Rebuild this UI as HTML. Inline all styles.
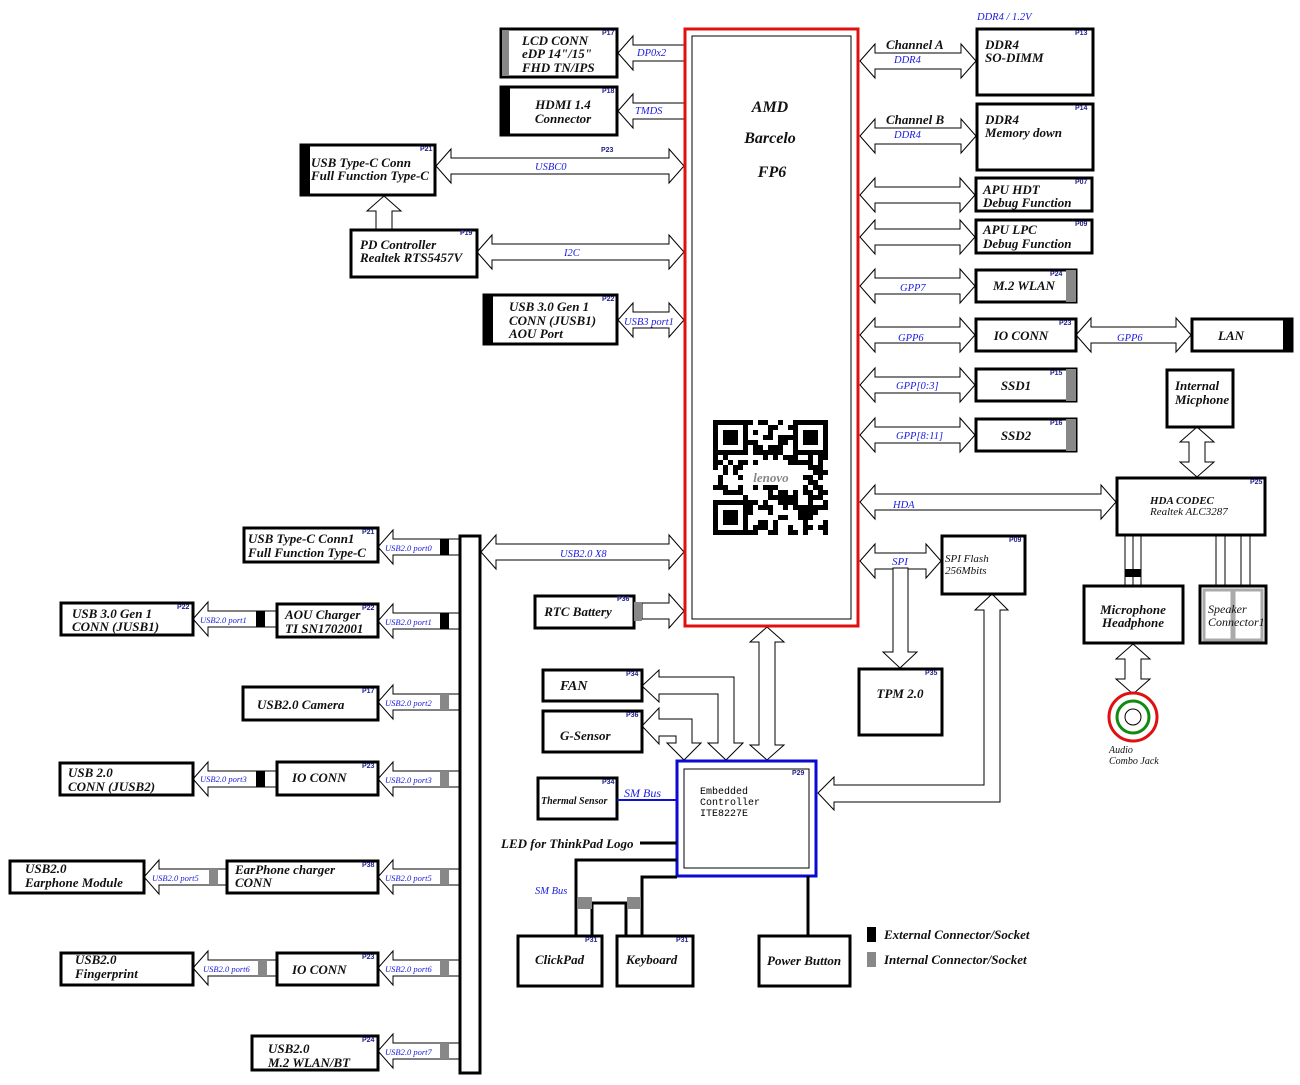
<!DOCTYPE html>
<html><head><meta charset="utf-8"><style>
html,body{margin:0;padding:0;background:#fff;width:1300px;height:1085px;overflow:hidden}
svg{display:block}
.t{font-family:"Liberation Serif",serif;font-style:italic;font-weight:bold;font-size:13px;fill:#111}
.b{font-family:"Liberation Serif",serif;font-style:italic;font-size:10.5px;fill:#1a1adf}
.p{font-family:"Liberation Sans",sans-serif;font-size:7px;font-weight:bold;fill:#22228a}
.bx{fill:#fff;stroke:#000;stroke-width:3}
</style></head><body>
<svg id="s" width="1300" height="1085" viewBox="0 0 1300 1085" xmlns="http://www.w3.org/2000/svg">
<g id="arrows" fill="#fff" stroke="#000" stroke-width="1"></g>

<!-- CPU -->
<rect x="685" y="29" width="173" height="597" fill="#fff" stroke="#e01010" stroke-width="3"/>
<rect x="692" y="36" width="159" height="583" fill="none" stroke="#000" stroke-width="1"/>
<text class="t" x="770" y="112" text-anchor="middle" style="font-size:16px">AMD</text>
<text class="t" x="770" y="143" text-anchor="middle" style="font-size:16px">Barcelo</text>
<text class="t" x="772" y="177" text-anchor="middle" style="font-size:16px">FP6</text>
<g id="qr"></g>
<text class="t" x="771" y="482" text-anchor="middle" style="font-size:13px;fill:#888">lenovo</text>

<!-- top left -->
<rect class="bx" x="501" y="29" width="116" height="48"/><rect x="502" y="30" width="7" height="46" fill="#888"/>
<text class="t" x="522" y="45">LCD CONN</text><text class="t" x="522" y="58">eDP 14"/15"</text><text class="t" x="522" y="72">FHD TN/IPS</text>
<text class="p" x="602" y="35">P17</text>
<text class="b" x="637" y="56">DP0x2</text>
<rect class="bx" x="501" y="87" width="116" height="48"/><rect x="502" y="88" width="8" height="46" fill="#000"/>
<text class="t" x="563" y="109" text-anchor="middle">HDMI 1.4</text><text class="t" x="563" y="123" text-anchor="middle">Connector</text>
<text class="p" x="602" y="93">P18</text>
<text class="b" x="635" y="114">TMDS</text>
<rect class="bx" x="301" y="145" width="134" height="50"/><rect x="302" y="146" width="8" height="48" fill="#000"/>
<text class="t" x="311" y="167">USB Type-C  Conn</text><text class="t" x="311" y="180">Full Function Type-C</text>
<text class="p" x="420" y="151">P21</text>
<text class="b" x="535" y="170">USBC0</text><text class="p" x="601" y="152">P23</text>
<rect class="bx" x="351" y="230" width="126" height="47"/>
<text class="t" x="360" y="249">PD Controller</text><text class="t" x="360" y="262">Realtek RTS5457V</text>
<text class="p" x="460" y="235">P19</text>
<text class="b" x="564" y="256">I2C</text>
<rect class="bx" x="484" y="295" width="133" height="49"/><rect x="485" y="296" width="8" height="47" fill="#000"/>
<text class="t" x="509" y="311">USB 3.0 Gen 1</text><text class="t" x="509" y="325">CONN (JUSB1)</text><text class="t" x="509" y="338">AOU Port</text>
<text class="p" x="602" y="301">P22</text>
<text class="b" x="624" y="325">USB3 port1</text>

<!-- right -->
<text class="b" x="977" y="20">DDR4 / 1.2V</text>
<rect class="bx" x="977" y="29" width="116" height="66"/><text class="t" x="985" y="49">DDR4</text><text class="t" x="985" y="62">SO-DIMM</text><text class="p" x="1075" y="35">P13</text>
<text class="t" x="886" y="49">Channel A</text><text class="b" x="894" y="63">DDR4</text>
<rect class="bx" x="977" y="104" width="116" height="66"/><text class="t" x="985" y="124">DDR4</text><text class="t" x="985" y="137">Memory down</text><text class="p" x="1075" y="110">P14</text>
<text class="t" x="886" y="124">Channel B</text><text class="b" x="894" y="138">DDR4</text>
<rect class="bx" x="976" y="178" width="116" height="33"/><text class="t" x="983" y="194">APU HDT</text><text class="t" x="983" y="207">Debug Function</text><text class="p" x="1075" y="184">P07</text>
<rect class="bx" x="976" y="220" width="116" height="33"/><text class="t" x="983" y="234">APU LPC</text><text class="t" x="983" y="248">Debug Function</text><text class="p" x="1075" y="226">P09</text>
<rect class="bx" x="976" y="270" width="100" height="32"/><rect x="1066" y="270" width="10" height="32" fill="#888"/><text class="t" x="1024" y="290" text-anchor="middle">M.2 WLAN</text><text class="p" x="1050" y="276">P24</text>
<text class="b" x="900" y="291">GPP7</text>
<rect class="bx" x="976" y="319" width="100" height="32"/><text class="t" x="1021" y="340" text-anchor="middle">IO CONN</text><text class="p" x="1059" y="325">P23</text>
<text class="b" x="898" y="341">GPP6</text><text class="b" x="1117" y="341">GPP6</text>
<rect class="bx" x="1192" y="319" width="100" height="32"/><rect x="1283" y="319" width="9" height="32" fill="#000"/><text class="t" x="1231" y="340" text-anchor="middle">LAN</text>
<rect class="bx" x="976" y="369" width="100" height="32"/><rect x="1066" y="369" width="10" height="32" fill="#888"/><text class="t" x="1016" y="390" text-anchor="middle">SSD1</text><text class="p" x="1050" y="375">P15</text>
<text class="b" x="896" y="389">GPP[0:3]</text>
<rect class="bx" x="976" y="419" width="100" height="32"/><rect x="1066" y="419" width="10" height="32" fill="#888"/><text class="t" x="1016" y="440" text-anchor="middle">SSD2</text><text class="p" x="1050" y="425">P16</text>
<text class="b" x="896" y="439">GPP[8:11]</text>
<rect class="bx" x="1167" y="370" width="66" height="57"/><text class="t" x="1175" y="390">Internal</text><text class="t" x="1175" y="404">Micphone</text>
<rect class="bx" x="1117" y="478" width="148" height="57"/><text class="t" x="1150" y="504" style="font-size:11px">HDA CODEC</text><text class="t" x="1150" y="515" style="font-size:11px;font-weight:normal">Realtek ALC3287</text><text class="p" x="1250" y="484">P25</text>
<text class="b" x="893" y="508">HDA</text>
<text class="b" x="892" y="565" style="font-size:11px">SPI</text>
<rect class="bx" x="942" y="536" width="83" height="58"/><text class="t" x="945" y="562" style="font-size:11px;font-weight:normal">SPI Flash</text><text class="t" x="945" y="574" style="font-size:11px;font-weight:normal">256Mbits</text><text class="p" x="1009" y="542">P09</text>
<rect class="bx" x="859" y="669" width="83" height="66"/><text class="t" x="900" y="698" text-anchor="middle">TPM 2.0</text><text class="p" x="925" y="675">P35</text>
<g stroke="#000" stroke-width="1"><line x1="1125" y1="535" x2="1125" y2="585"/><line x1="1133" y1="535" x2="1133" y2="585"/><line x1="1141" y1="535" x2="1141" y2="585"/>
<line x1="1216" y1="535" x2="1216" y2="585"/><line x1="1225" y1="535" x2="1225" y2="585"/><line x1="1241" y1="535" x2="1241" y2="585"/><line x1="1250" y1="535" x2="1250" y2="585"/></g>
<rect x="1125" y="569" width="16" height="8" fill="#000"/>
<rect class="bx" x="1084" y="586" width="99" height="57"/><text class="t" x="1133" y="614" text-anchor="middle">Microphone</text><text class="t" x="1133" y="627" text-anchor="middle">Headphone</text>
<rect class="bx" x="1200" y="586" width="66" height="57"/><rect x="1204" y="590" width="28" height="50" fill="#fff" stroke="#aaa" stroke-width="3"/><rect x="1234" y="590" width="28" height="50" fill="#fff" stroke="#aaa" stroke-width="3"/>
<text class="t" x="1208" y="613" style="font-weight:normal;font-size:12px">Speaker</text><text class="t" x="1208" y="626" style="font-weight:normal;font-size:12px">Connector1</text>
<circle cx="1133" cy="717" r="24" fill="#fff" stroke="#e01010" stroke-width="3"/><circle cx="1133" cy="717" r="16" fill="none" stroke="#108a10" stroke-width="3"/><circle cx="1133" cy="717" r="8" fill="none" stroke="#000"/>
<text class="t" x="1109" y="753" style="font-weight:normal;font-size:10px">Audio</text><text class="t" x="1109" y="764" style="font-weight:normal;font-size:10px">Combo Jack</text>
<rect x="867" y="927" width="9" height="15" fill="#000"/><text class="t" x="884" y="939">External Connector/Socket</text>
<rect x="867" y="952" width="9" height="15" fill="#888"/><text class="t" x="884" y="964">Internal Connector/Socket</text>

<!-- bottom middle -->
<rect class="bx" x="535" y="596" width="99" height="32"/><rect x="634" y="602" width="8" height="19" fill="#888"/><text class="t" x="578" y="616" text-anchor="middle">RTC Battery</text><text class="p" x="617" y="601">P36</text>
<text class="b" x="560" y="557">USB2.0 X8</text>
<rect class="bx" x="543" y="670" width="99" height="31"/><text class="t" x="560" y="690" style="font-size:14px">FAN</text><text class="p" x="626" y="676">P34</text>
<rect class="bx" x="543" y="711" width="99" height="41"/><text class="t" x="560" y="740">G-Sensor</text><text class="p" x="626" y="717">P36</text>
<rect class="bx" x="538" y="778" width="79" height="41"/><text class="t" x="541" y="804" style="font-size:10px">Thermal Sensor</text><text class="p" x="602" y="784">P34</text>
<line x1="617" y1="800" x2="676" y2="800" stroke="#1010d0" stroke-width="2"/><text class="b" x="624" y="797" style="font-size:12px">SM Bus</text>
<rect x="677" y="761" width="139" height="115" fill="#fff" stroke="#0a0ad0" stroke-width="3"/>
<rect x="684" y="769" width="125" height="99" fill="none" stroke="#000"/>
<text x="700" y="794" font-family="Liberation Mono,monospace" font-size="10">Embedded</text><text x="700" y="805" font-family="Liberation Mono,monospace" font-size="10">Controller</text><text x="700" y="816" font-family="Liberation Mono,monospace" font-size="10">ITE8227E</text>
<text class="p" x="792" y="775">P29</text>
<text class="t" x="501" y="848">LED for ThinkPad Logo</text>
<g stroke="#000" stroke-width="3" fill="none">
<line x1="640" y1="843" x2="677" y2="843"/>
<polyline points="677,860 576,860 576,935"/>
<polyline points="677,877 642,877 642,935"/>
<polyline points="592,935 592,903 626,903 626,935"/>
<line x1="808" y1="876" x2="808" y2="935"/>
</g>
<rect x="578" y="897" width="14" height="12" fill="#888"/><rect x="627" y="897" width="14" height="12" fill="#888"/>
<text class="b" x="535" y="894">SM Bus</text>
<rect class="bx" x="518" y="936" width="84" height="50"/><text class="t" x="535" y="964">ClickPad</text><text class="p" x="585" y="942">P31</text>
<rect class="bx" x="617" y="936" width="76" height="50"/><text class="t" x="626" y="964">Keyboard</text><text class="p" x="676" y="942">P31</text>
<rect class="bx" x="759" y="936" width="91" height="50"/><text class="t" x="767" y="965">Power Button</text>

<!-- bus -->
<rect x="460" y="536" width="20" height="537" fill="#fff" stroke="#000" stroke-width="3"/>

<!-- left stack -->
<rect class="bx" x="244" y="528" width="134" height="34"/><text class="t" x="248" y="543">USB Type-C  Conn1</text><text class="t" x="248" y="557">Full Function Type-C</text><text class="p" x="362" y="534">P21</text>
<rect class="bx" x="277" y="604" width="101" height="33"/><text class="t" x="285" y="619">AOU Charger</text><text class="t" x="285" y="633">TI SN1702001</text><text class="p" x="362" y="610">P22</text>
<rect class="bx" x="243" y="687" width="135" height="33"/><text class="t" x="257" y="709">USB2.0 Camera</text><text class="p" x="362" y="693">P17</text>
<rect class="bx" x="277" y="762" width="101" height="33"/><text class="t" x="292" y="782">IO CONN</text><text class="p" x="362" y="768">P23</text>
<rect class="bx" x="227" y="861" width="151" height="32"/><text class="t" x="235" y="874">EarPhone charger</text><text class="t" x="235" y="887">CONN</text><text class="p" x="362" y="867">P38</text>
<rect class="bx" x="277" y="953" width="101" height="32"/><text class="t" x="292" y="974">IO CONN</text><text class="p" x="362" y="959">P23</text>
<rect class="bx" x="252" y="1036" width="126" height="34"/><text class="t" x="268" y="1053">USB2.0</text><text class="t" x="268" y="1067">M.2 WLAN/BT</text><text class="p" x="362" y="1042">P24</text>
<rect class="bx" x="61" y="603" width="132" height="32"/><text class="t" x="72" y="618">USB 3.0 Gen 1</text><text class="t" x="72" y="631">CONN (JUSB1)</text><text class="p" x="177" y="609">P22</text>
<rect class="bx" x="60" y="763" width="133" height="32"/><text class="t" x="68" y="777">USB 2.0</text><text class="t" x="68" y="791">CONN (JUSB2)</text>
<rect class="bx" x="10" y="861" width="134" height="32"/><text class="t" x="25" y="873">USB2.0</text><text class="t" x="25" y="887">Earphone Module</text>
<rect class="bx" x="61" y="953" width="132" height="32"/><text class="t" x="75" y="964">USB2.0</text><text class="t" x="75" y="978">Fingerprint</text>
<g class="b" style="font-size:8.5px">
<text x="385" y="551">USB2.0 port0</text><text x="385" y="625">USB2.0 port1</text><text x="385" y="706">USB2.0 port2</text><text x="385" y="783">USB2.0 port3</text><text x="385" y="881">USB2.0 port5</text><text x="385" y="972">USB2.0 port6</text><text x="385" y="1055">USB2.0 port7</text>
<text x="200" y="623">USB2.0 port1</text><text x="200" y="782">USB2.0 port3</text><text x="152" y="881">USB2.0 port5</text><text x="203" y="972">USB2.0 port6</text>
</g>
<g id="blocks"></g>
</svg>
<script>
var A=document.getElementById('arrows'),NS='http://www.w3.org/2000/svg';
function poly(p){var e=document.createElementNS(NS,'polygon');e.setAttribute('points',p.map(function(q){return q[0]+','+q[1]}).join(' '));A.appendChild(e);}
function hd(x1,x2,y,h,H,L){h=h||8;H=H||17;L=L||15;poly([[x1,y],[x1+L,y-H],[x1+L,y-h],[x2-L,y-h],[x2-L,y-H],[x2,y],[x2-L,y+H],[x2-L,y+h],[x1+L,y+h],[x1+L,y+H]]);}
function hl(x1,x2,y,h,H,L){h=h||8;H=H||17;L=L||15;poly([[x1,y],[x1+L,y-H],[x1+L,y-h],[x2,y-h],[x2,y+h],[x1+L,y+h],[x1+L,y+H]]);}
function hr(x1,x2,y,h,H,L){h=h||8;H=H||17;L=L||15;poly([[x2,y],[x2-L,y-H],[x2-L,y-h],[x1,y-h],[x1,y+h],[x2-L,y+h],[x2-L,y+H]]);}
function vd(x,y1,y2,h,H,L){h=h||8;H=H||17;L=L||15;poly([[x,y1],[x+H,y1+L],[x+h,y1+L],[x+h,y2-L],[x+H,y2-L],[x,y2],[x-H,y2-L],[x-h,y2-L],[x-h,y1+L],[x-H,y1+L]]);}
function vu(x,y1,y2,h,H,L){h=h||8;H=H||17;L=L||15;poly([[x,y1],[x+H,y1+L],[x+h,y1+L],[x+h,y2],[x-h,y2],[x-h,y1+L],[x-H,y1+L]]);}
hl(618,684,53);hl(618,684,111);hd(436,684,166);hd(477,684,252);hd(618,684,320);
hd(860,976,61);hd(860,976,136);hd(860,975,195);hd(860,975,237);hd(860,975,286);hd(860,975,335);hd(1076,1191,335);hd(860,975,385);hd(860,975,435);
hd(860,1116,502);hd(860,941,561,8,17,15);
poly([[900,668],[917,652],[908,652],[908,568],[893,568],[893,652],[883,652]]);
vu(384,196,229);vd(1197,427,477);vd(1133,644,694);vd(767,627,760);
hd(481,684,552);hr(642,684,611);
poly([[818,793],[834,777],[834,785],[984,785],[984,610],[975,610],[992,594],[1008,610],[1000,610],[1000,802],[834,802],[834,810]]);
poly([[642,686],[659,670],[659,677],[734,677],[734,743],[743,743],[726,760],[708,743],[718,743],[718,694],[659,694],[659,702]]);
poly([[642,726],[659,708],[659,719],[692,719],[692,743],[701,743],[684,760],[667,743],[676,743],[676,736],[659,736],[659,744]]);
var rows=[[547,'#000'],[621,'#000'],[702,'#888'],[779,'#888'],[877,'#888'],[968,'#888'],[1051,'#888']];
var B=document.getElementById('blocks');
function blk(x,y,c){var r=document.createElementNS(NS,'rect');r.setAttribute('x',x);r.setAttribute('y',y-8);r.setAttribute('width',9);r.setAttribute('height',16);r.setAttribute('fill',c);B.appendChild(r);}
rows.forEach(function(r){hl(378,459,r[0]);blk(440,r[0],r[1]);});
hl(193,276,619);blk(256,619,'#000');hl(193,276,779);blk(256,779,'#000');hl(144,226,877);blk(209,877,'#888');hl(193,276,968);blk(258,968,'#888');
var Q=document.getElementById('qr'),seed=7;function rnd(){seed=(seed*16807)%2147483647;return seed/2147483647;}
var s=5,x0=713,y0=420,n=23;
for(var i=0;i<n;i++)for(var j=0;j<n;j++){var f=(i<7&&j<7)||(i<7&&j>=n-7)||(i>=n-7&&j<7);if(f)continue;if(i>=9&&i<=12&&j>=6&&j<=17)continue;if(rnd()<0.5){var r=document.createElementNS(NS,'rect');r.setAttribute('x',x0+j*s);r.setAttribute('y',y0+i*s);r.setAttribute('width',s);r.setAttribute('height',s);Q.appendChild(r);}}
[[0,0],[0,n-7],[n-7,0]].forEach(function(p){var X=x0+p[1]*s,Y=y0+p[0]*s;Q.insertAdjacentHTML('beforeend','<rect x="'+(X+2.5)+'" y="'+(Y+2.5)+'" width="30" height="30" fill="none" stroke="#000" stroke-width="5"/><rect x="'+(X+10)+'" y="'+(Y+10)+'" width="15" height="15"/>');});
</script>
</body></html>
